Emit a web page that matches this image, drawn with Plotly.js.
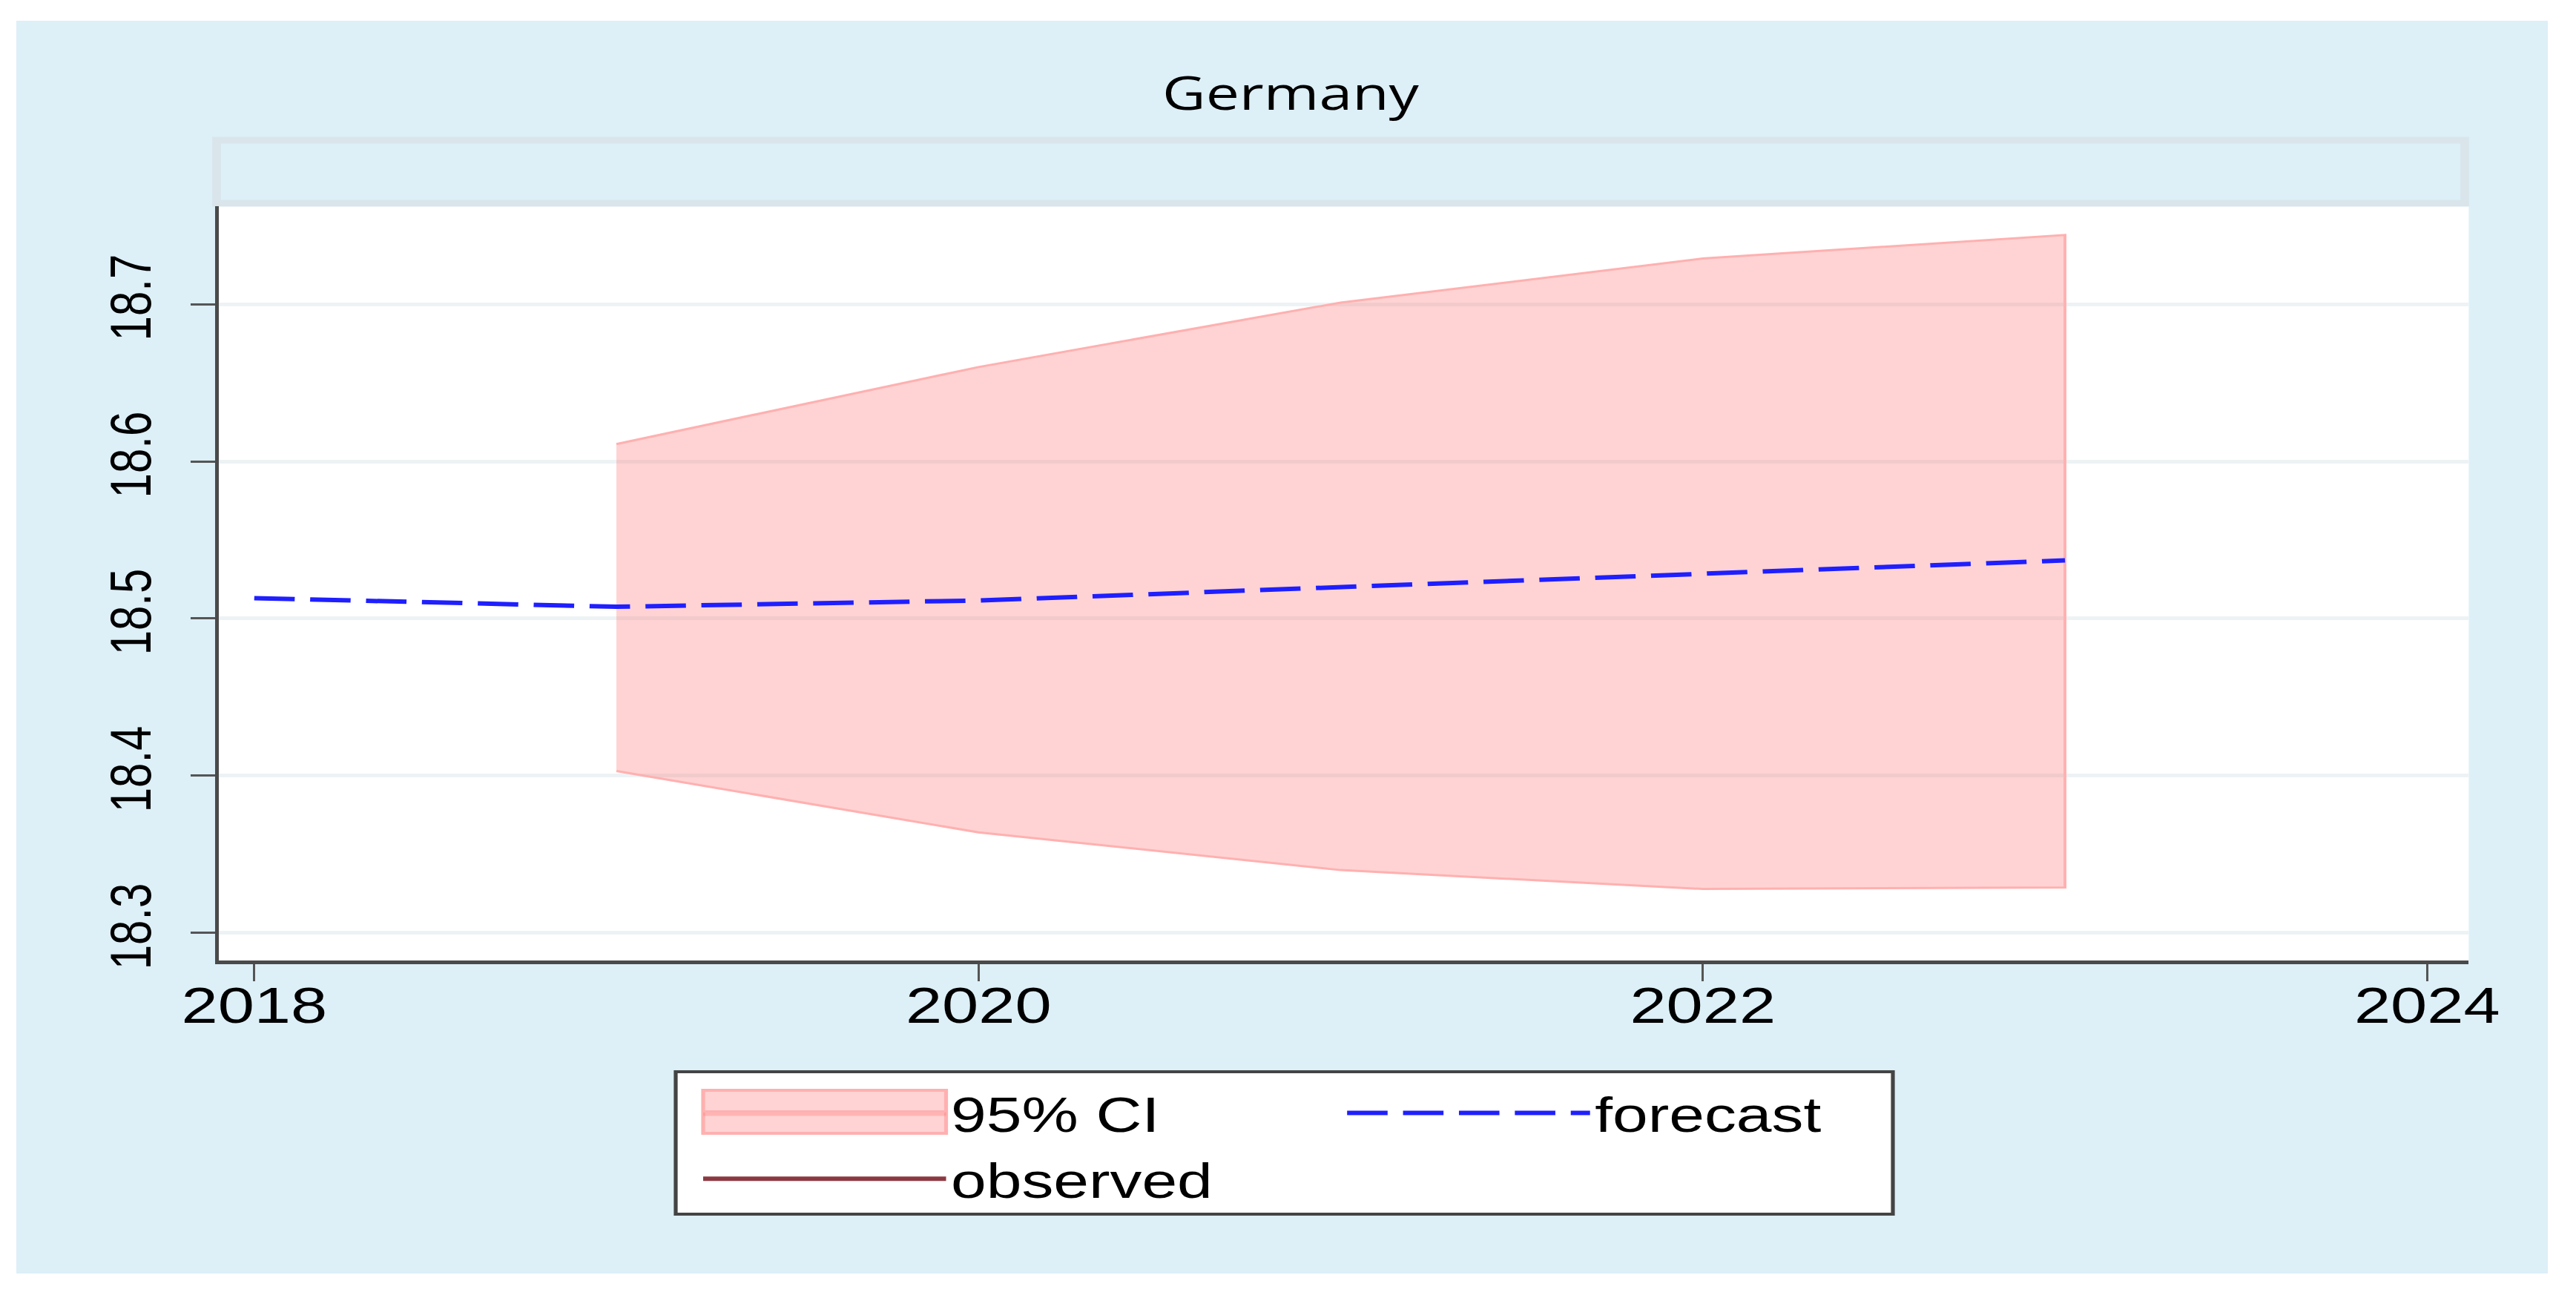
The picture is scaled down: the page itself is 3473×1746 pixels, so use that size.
<!DOCTYPE html>
<html>
<head>
<meta charset="utf-8">
<script src="https://cdn.plot.ly/plotly-3.0.1.min.js"></script>
<style>
html,body{margin:0;padding:0;background:#ffffff;width:3473px;height:1746px;overflow:hidden;}
#wrap{position:absolute;left:22px;top:28px;width:3413px;height:1689px;overflow:hidden;}
#chart{position:absolute;left:0;top:0;width:2626px;height:1689px;transform-origin:0 0;}
</style>
</head>
<body>
<div id="wrap"><div id="chart"></div></div>
<script>
// ---- data ----
const forecastYears = [2018, 2019, 2020, 2021, 2022, 2023];
const forecastValues = [18.513, 18.5075, 18.5115, 18.520, 18.529, 18.537];
const ciYears = [2019, 2020, 2021, 2022, 2023];
const ciUpper = [18.611, 18.660, 18.701, 18.729, 18.744];
const ciLower = [18.403, 18.364, 18.340, 18.328, 18.329];
const observedYears = [2018];
const observedValues = [18.513];
const xTickVals = [2018, 2020, 2022, 2024];
const yTickVals = [18.3, 18.4, 18.5, 18.6, 18.7];
const chartTitle = 'Germany';
const seriesNames = ['95% CI', 'forecast', 'observed'];

// ---- geometry: the reference is horizontally stretched, so the chart is drawn
// narrower and stretched with a CSS transform ----
const W = 2626, H = 1689;
const S = 3413 / W;
document.getElementById('chart').style.transform = 'scaleX(' + S + ')';
const M = {l: 210, r: 82, t: 250, b: 422, pad: 0};
const PW = W - M.l - M.r, PH = H - M.t - M.b;
function px(X) { return ((X - 22) / S - M.l) / PW; }   // page x -> paper x
function py(Y) { return (M.t + PH - (Y - 28)) / PH; }  // page y -> paper y

const ITEMW = 252;   // legend symbol width (chart px)

const ciX = ciYears.concat(ciYears.slice().reverse());
const ciY = ciUpper.concat(ciLower.slice().reverse());

const ciFill = 'rgba(255,108,108,0.30)';
const ciLine = '#ffb0b0';

const traces = [
  {
    type: 'scatter', mode: 'lines', name: seriesNames[0],
    x: ciX, y: ciY, fill: 'toself',
    fillcolor: ciFill,
    line: {color: ciLine, width: 3},
    legendgroup: 'a', hoverinfo: 'skip'
  },
  {
    type: 'scatter', mode: 'lines', name: seriesNames[2],
    x: observedYears, y: observedValues,
    line: {color: '#8b3a42', width: 6},
    legendgroup: 'a'
  },
  {
    type: 'scatter', mode: 'lines', name: seriesNames[1],
    x: forecastYears, y: forecastValues,
    line: {color: '#1f1fff', width: 6, dash: '42px,16px'},
    legendgroup: 'b'
  }
];

const tickFont = {family: 'Liberation Sans, Arial, sans-serif', size: 68, color: '#000'};

// legend frame and the CI key block (legend decoration, page coordinates)
const legendBox = {x0: 911, x1: 2552, y0: 1445, y1: 1637};
const ciKey = {x0: 948, x1: 948 + ITEMW * S, y0: 1470, y1: 1528};

const layout = {
  width: W, height: H,
  margin: M,
  paper_bgcolor: '#ddeff7',
  plot_bgcolor: '#ffffff',
  showlegend: true,
  title: {
    text: chartTitle,
    font: {family: 'Open Sans, sans-serif', size: 62, color: '#000'},
    xref: 'container', yref: 'container',
    x: ((1740 - 22) / S) / W, xanchor: 'center',
    y: 1 - (126 - 28) / H, yanchor: 'middle'
  },
  xaxis: {
    range: [2017.902, 2024.115],
    tickmode: 'array', tickvals: xTickVals, ticktext: xTickVals.map(String),
    ticks: 'outside', ticklen: 23, tickwidth: 2, tickcolor: '#555',
    showline: true, linecolor: '#4a4a4a', linewidth: 5,
    showgrid: false, zeroline: false,
    tickfont: tickFont,
    ticklabelstandoff: -26
  },
  yaxis: {
    range: [18.2825, 18.7623],
    tickmode: 'array', tickvals: yTickVals, ticktext: yTickVals.map(v => v.toFixed(1)),
    tickangle: -90,
    ticks: 'outside', ticklen: 25, tickwidth: 3, tickcolor: '#555',
    showline: true, linecolor: '#4a4a4a', linewidth: 4,
    showgrid: true, gridcolor: '#edf3f5', gridwidth: 5,
    zeroline: false,
    tickfont: {family: 'Liberation Sans, Arial, sans-serif', size: 60, color: '#000'},
    ticklabelstandoff: 18
  },
  legend: {
    orientation: 'h', traceorder: 'grouped',
    x: px(948 - 5 * S), y: py(1451), xanchor: 'left', yanchor: 'top',
    bgcolor: 'rgba(0,0,0,0)', borderwidth: 0,
    font: {family: 'Liberation Sans, Arial, sans-serif', size: 66, color: '#000'},
    itemwidth: ITEMW,
    entrywidth: 388 - (ITEMW - 265), entrywidthmode: 'pixels',
    tracegroupgap: 0, valign: 'middle'
  },
  shapes: [
    {
      type: 'rect', xref: 'paper', yref: 'paper', layer: 'below',
      x0: px(292), x1: px(3323), y0: py(274), y1: py(189),
      line: {color: '#d9e5eb', width: 9}, fillcolor: 'rgba(0,0,0,0)'
    },
    {
      type: 'rect', xref: 'paper', yref: 'paper', layer: 'above',
      x0: px(legendBox.x0), x1: px(legendBox.x1), y0: py(legendBox.y1), y1: py(legendBox.y0),
      line: {color: '#444444', width: 4}, fillcolor: '#ffffff'
    },
    {
      type: 'rect', xref: 'paper', yref: 'paper', layer: 'above',
      x0: px(ciKey.x0), x1: px(ciKey.x1), y0: py(ciKey.y1), y1: py(ciKey.y0),
      line: {color: ciLine, width: 4}, fillcolor: '#ffd3d3'
    }
  ]
};

Plotly.newPlot('chart', traces, layout, {displayModeBar: false, staticPlot: true});
</script>
</body>
</html>
